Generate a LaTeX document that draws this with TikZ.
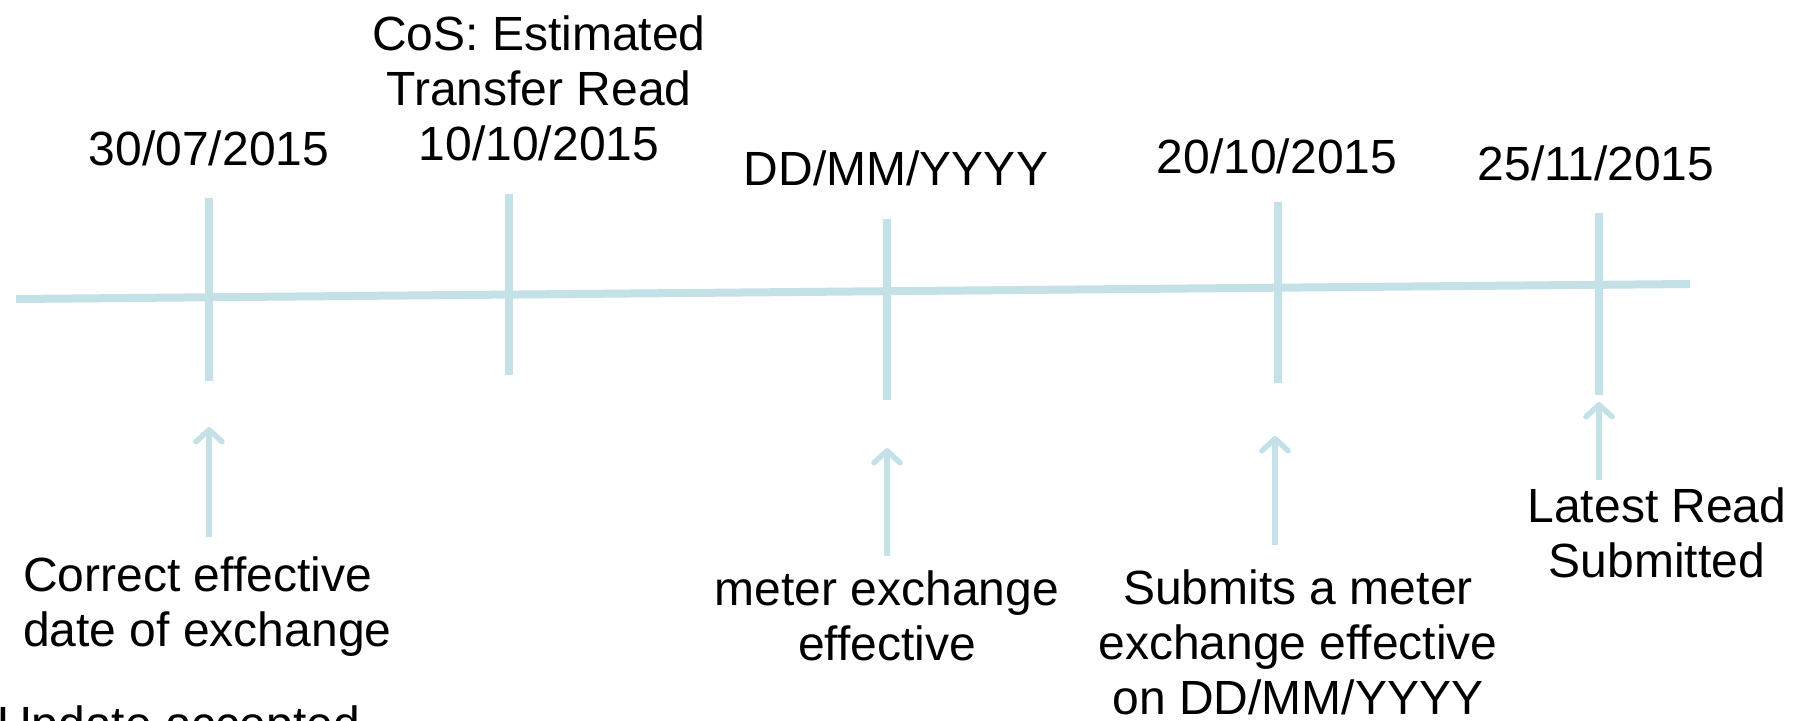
\documentclass[tikz,border=0pt]{standalone}
\usepackage{fontspec}
\setmainfont{Liberation Sans}
\usetikzlibrary{arrows.meta}
\definecolor{tl}{RGB}{195,225,230}
\begin{document}
\begin{tikzpicture}[x=1pt,y=-1pt,
  axis/.style={draw=tl,line width=8pt},
  tick/.style={draw=tl,line width=8pt},
  pointer/.style={draw=tl,line width=5.5pt,-{Straight Barb[length=12pt,width=26pt,round]}},
  lbl/.style={font=\fontsize{48}{55}\selectfont,inner sep=0pt,align=center,anchor=base}]
\useasboundingbox (0,0) rectangle (1809,720);
\clip (0,0) rectangle (1809,720);
% timeline
\coordinate (ls) at (16,299);
\coordinate (le) at (1690,284);
\draw[axis] (ls) -- (le);
% ticks
\coordinate (t1a) at (209,198); \coordinate (t1b) at (209,381);
\coordinate (t2a) at (509,194); \coordinate (t2b) at (509,375);
\coordinate (t3a) at (887,219); \coordinate (t3b) at (887,400);
\coordinate (t4a) at (1278,202); \coordinate (t4b) at (1278,383);
\coordinate (t5a) at (1599,213); \coordinate (t5b) at (1599,395);
\draw[tick] (t1a) -- (t1b);
\draw[tick] (t2a) -- (t2b);
\draw[tick] (t3a) -- (t3b);
\draw[tick] (t4a) -- (t4b);
\draw[tick] (t5a) -- (t5b);
% dates (base anchor = baseline of the last line)
\node[lbl] (d1) at (209,165) {30/07/2015};
\node[lbl] (d2) at (539,160) {CoS: Estimated\\Transfer Read\\10/10/2015};
\node[lbl] (d3) at (896,185) {DD/MM/YYYY};
\node[lbl] (d4) at (1277,173) {20/10/2015};
\node[lbl] (d5) at (1596,180) {25/11/2015};
% labels
\node[lbl,align=left,anchor=base west] (l1) at (23,646) {Correct effective\\date of exchange};
\node[lbl] (l2) at (887,660) {meter exchange\\effective};
\node[lbl] (l3) at (1298,714) {Submits a meter\\exchange effective\\on DD/MM/YYYY};
\node[lbl] (l4) at (1657,577) {Latest Read\\Submitted};
\node[lbl,align=left,anchor=base west] (l5) at (-3,740) {Update accepted};
% pointers
\coordinate (a1s) at (209,537); \coordinate (a1e) at (209,427);
\coordinate (a2s) at (887,556); \coordinate (a2e) at (887,448);
\coordinate (a3s) at (1275,545); \coordinate (a3e) at (1275,436);
\coordinate (a4s) at (1599,480); \coordinate (a4e) at (1599,402);
\draw[pointer] (a1s) -- (a1e);
\draw[pointer] (a2s) -- (a2e);
\draw[pointer] (a3s) -- (a3e);
\draw[pointer] (a4s) -- (a4e);
\end{tikzpicture}
\end{document}
